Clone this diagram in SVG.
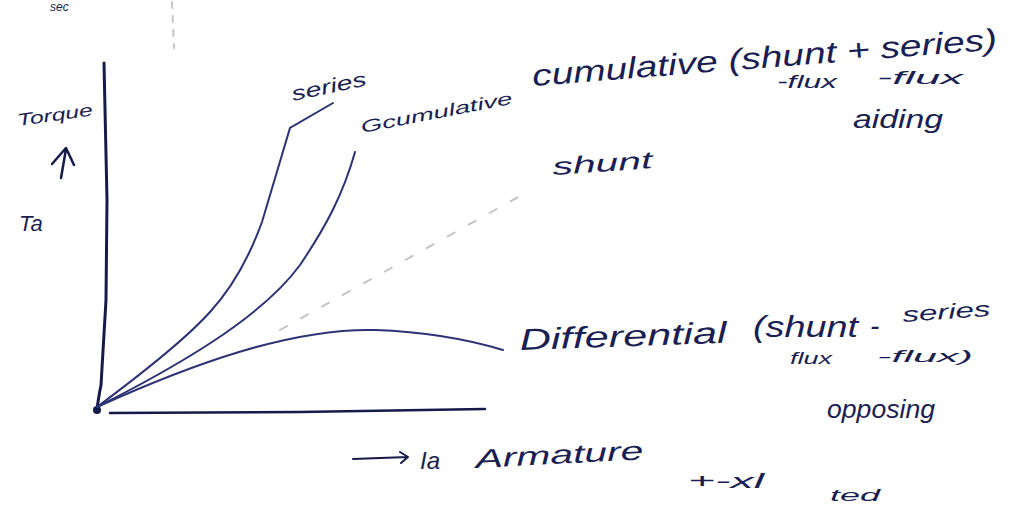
<svg xmlns="http://www.w3.org/2000/svg" width="1017" height="506" viewBox="0 0 1017 506">
<style>
.ink{fill:none;stroke:#161a48;stroke-linecap:round;stroke-linejoin:round}
.curve{fill:none;stroke:#2c3274;stroke-width:2;stroke-linecap:round}
.t{font-family:"Liberation Sans","DejaVu Sans",sans-serif;font-style:italic;fill:#1a1e52}
.faint{fill:none;stroke:#c4c4c8;stroke-width:2;stroke-linecap:round}
</style>
<rect width="1017" height="506" fill="#ffffff"/>
<g id="bleed">
<path class="faint" d="M172,2 L174,48" stroke-dasharray="6 8"/>
<path class="faint" d="M280,330 L520,196" stroke-dasharray="8 16"/>
</g>
<g id="axes">
<path class="ink" stroke-width="3" d="M104,63 L107,200 L106,300 L101,385 Q98,400 97,410"/>
<path class="ink" stroke-width="2.5" d="M110,413 L300,412 L485,409"/>
<circle cx="97" cy="410" r="4" fill="#161a48"/>
</g>
<g id="connectors">
<path id="series-curve" class="curve" stroke-width="2.4" d="M97,407 C140,375 185,340 210,312 C232,288 250,255 262,222 L290,128 L333,103"/>
<path id="cumulative-curve" class="curve" d="M97,407 C170,370 260,320 300,265 C325,228 343,195 355,152"/>
<path id="differential-curve" class="curve" d="M97,407 C190,365 290,328 375,330 C430,332 470,340 503,350"/>
</g>
<g id="labels">
<text class="t" font-size="12" x="50" y="11">sec</text>
<text class="t" font-size="17" transform="translate(18,126) rotate(-8)" textLength="76" lengthAdjust="spacingAndGlyphs">Torque</text>
<path class="ink" stroke-width="2.5" d="M61,178 L66,149 M52,164 L66,148 L74,165"/>
<text class="t" font-size="22" x="19" y="231">Ta</text>
<text class="t" font-size="20" transform="translate(293,101) rotate(-12)" textLength="76" lengthAdjust="spacingAndGlyphs">series</text>
<text class="t" font-size="17" transform="translate(362,133) rotate(-11)" textLength="154" lengthAdjust="spacingAndGlyphs">Gcumulative</text>
<text class="t" font-size="30" transform="translate(533,86) rotate(-4.5)" textLength="466" lengthAdjust="spacingAndGlyphs">cumulative (shunt + series)</text>
<text class="t" font-size="19" x="777" y="88" textLength="60" lengthAdjust="spacingAndGlyphs">-flux</text>
<text class="t" font-size="19" x="877" y="84" textLength="86" lengthAdjust="spacingAndGlyphs">-flux</text>
<text class="t" font-size="26" x="853" y="128" textLength="90" lengthAdjust="spacingAndGlyphs">aiding</text>
<text class="t" font-size="24" transform="translate(553,175) rotate(-4)" textLength="100" lengthAdjust="spacingAndGlyphs">shunt</text>
<text class="t" font-size="30" transform="translate(520,350) rotate(-2)" textLength="207" lengthAdjust="spacingAndGlyphs">Differential</text>
<text class="t" font-size="30" x="753" y="337" textLength="105" lengthAdjust="spacingAndGlyphs">(shunt</text>
<text class="t" font-size="28" x="870" y="335">-</text>
<text class="t" font-size="21" transform="translate(903,322) rotate(-4)" textLength="88" lengthAdjust="spacingAndGlyphs">series</text>
<text class="t" font-size="17" x="790" y="364" textLength="42" lengthAdjust="spacingAndGlyphs">flux</text>
<text class="t" font-size="17" x="877" y="362" textLength="96" lengthAdjust="spacingAndGlyphs">-flux)</text>
<text class="t" font-size="26" x="827" y="418" textLength="108" lengthAdjust="spacingAndGlyphs">opposing</text>
<path class="ink" stroke-width="2" d="M353,459 L408,457 M400,452 L408,457 L401,463"/>
<text class="t" font-size="24" x="420" y="469">Ia</text>
<text class="t" font-size="26" transform="translate(476,468) rotate(-3)" textLength="168" lengthAdjust="spacingAndGlyphs">Armature</text>
<text class="t" font-size="20" x="688" y="488" textLength="76" lengthAdjust="spacingAndGlyphs">+-xl</text>
<text class="t" font-size="16" x="830" y="501" textLength="50" lengthAdjust="spacingAndGlyphs">ted</text>
</g>
</svg>
